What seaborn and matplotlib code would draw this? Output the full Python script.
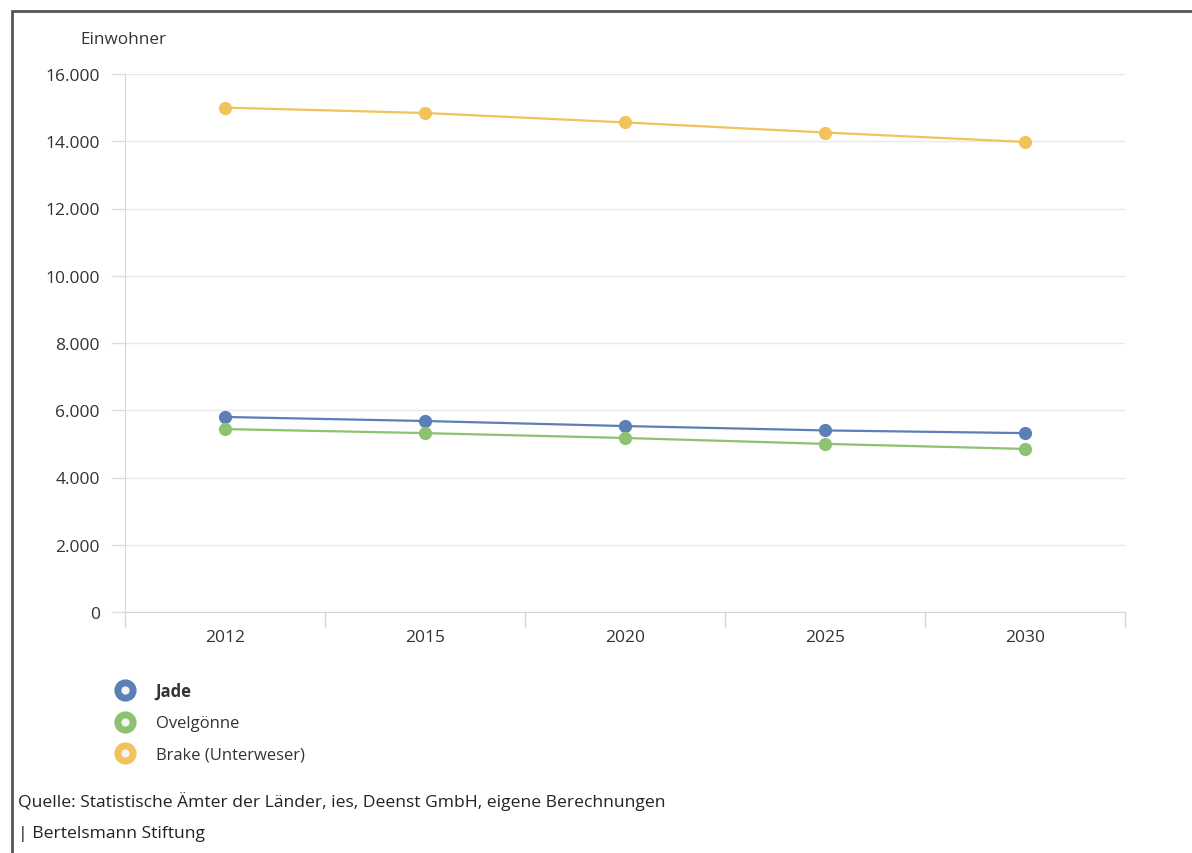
import pandas as pd
import matplotlib
matplotlib.use("Agg")
import matplotlib.pyplot as plt
from matplotlib.lines import Line2D
from matplotlib.patches import Rectangle
from matplotlib.ticker import FuncFormatter, FixedLocator
import seaborn as sns

# data
years = ["2012", "2015", "2020", "2025", "2030"]
jade = [5800, 5680, 5530, 5400, 5320]
ovelgoenne = [5440, 5320, 5175, 5000, 4850]
brake = [15000, 14840, 14560, 14260, 13980]
orte = ["Jade", "Ovelgönne", "Brake (Unterweser)"]
farben = ["#5b7fb6", "#8cc270", "#f1c35a"]
y_ticks = [0, 2000, 4000, 6000, 8000, 10000, 12000, 14000, 16000]

df = pd.DataFrame({
    "Jahr": years * 3,
    "Einwohner": jade + ovelgoenne + brake,
    "Ort": [o for o in orte for _ in years],
})

sns.set_style("white")
plt.rcParams["font.family"] = ["Open Sans", "DejaVu Sans"]

fig = plt.figure(figsize=(11.92, 8.54), dpi=100)
ax = fig.add_axes([125 / 1192, 1 - 613 / 854, 1000 / 1192, 538 / 854])

sns.lineplot(data=df, x="Jahr", y="Einwohner", hue="Ort", hue_order=orte,
             palette=farben, marker="o", markersize=9.5, markeredgewidth=0,
             linewidth=1.6, legend=False, ax=ax)

ax.set_xlim(-0.5, 4.5)
ax.set_ylim(0, 16000)
ax.set_yticks(y_ticks)
ax.yaxis.set_major_formatter(FuncFormatter(lambda v, p: f"{int(v):,}".replace(",", ".")))
ax.xaxis.set_minor_locator(FixedLocator([-0.5, 0.5, 1.5, 2.5, 3.5, 4.5]))
ax.tick_params(axis="x", which="major", bottom=True, length=0, pad=12.5, labelsize=12.5, labelcolor="#333333")
ax.tick_params(axis="x", which="minor", bottom=True, length=11, width=1, color="#d6d6d6", direction="out")
ax.tick_params(axis="y", left=True, length=10, width=1, color="#dddddd", pad=8, labelsize=12.5, labelcolor="#333333")
ax.grid(axis="y", color="#e9e9e9", linewidth=1)
ax.set_axisbelow(True)
ax.set_xlabel("")
ax.set_ylabel("")
for s in ["top", "right"]:
    ax.spines[s].set_visible(False)
ax.spines["left"].set_color("#d6d6d6")
ax.spines["bottom"].set_color("#d6d6d6")

fig.text(80 / 1192, 1 - 40 / 854, "Einwohner", fontsize=12.3, color="#333333", va="center")

# legend as rings
handles = [Line2D([], [], linestyle="none", marker="o", markersize=11,
                  markerfacecolor="#f4f4f4", markeredgecolor=c, markeredgewidth=5)
           for c in farben]
leg = fig.legend(handles, orte, loc="upper left", bbox_to_anchor=(99 / 1192, 1 - 668 / 854),
                 frameon=False, fontsize=12, handletextpad=1.2, labelspacing=0.92,
                 handlelength=1.3)
for t in leg.get_texts():
    t.set_color("#333333")
leg.get_texts()[0].set_fontweight("bold")

fig.text(18 / 1192, 1 - 802 / 854, "Quelle: Statistische Ämter der Länder, ies, Deenst GmbH, eigene Berechnungen",
         fontsize=12.6, color="#222222", va="center")
fig.text(18 / 1192, 1 - 834 / 854, "| Bertelsmann Stiftung", fontsize=12.6, color="#222222", va="center")

fig.patches.append(Rectangle((12 / 1192, -0.05), 1.2, 1 - 12 / 854 + 0.05, transform=fig.transFigure,
                             fill=False, edgecolor="#555555", linewidth=2))

fig.savefig("out.png", dpi=100)
